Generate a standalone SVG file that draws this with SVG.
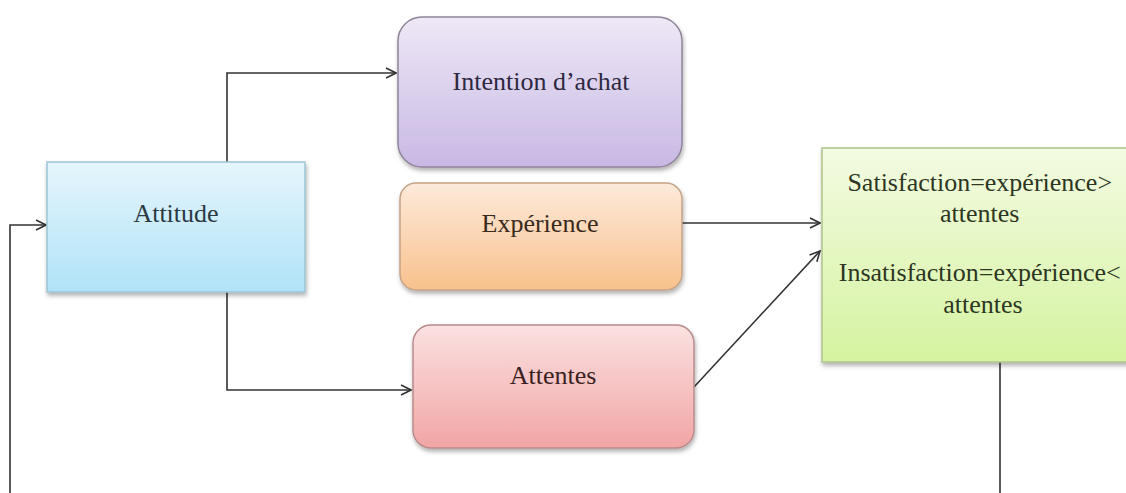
<svg xmlns="http://www.w3.org/2000/svg" width="1126" height="493" viewBox="0 0 1126 493">
  <style>
    .lbl { font-family: "Liberation Serif", "Times New Roman", serif; font-size: 26px; text-anchor: middle; }
    .node rect { stroke-width: 1.5; filter: url(#shadow); }
    .wire { fill: none; stroke: #333; stroke-width: 1.6; }
  </style>
  <defs>
    <filter id="shadow" x="-10%" y="-10%" width="125%" height="130%">
      <feDropShadow dx="1" dy="3" stdDeviation="2" flood-color="#000" flood-opacity="0.3"/>
    </filter>
    <linearGradient id="gBlue" x1="0" y1="0" x2="0" y2="1">
      <stop offset="0" stop-color="#e6f5fc"/>
      <stop offset="1" stop-color="#b0e3f8"/>
    </linearGradient>
    <linearGradient id="gPurple" x1="0" y1="0" x2="0" y2="1">
      <stop offset="0" stop-color="#eee8f6"/>
      <stop offset="1" stop-color="#c8b8e4"/>
    </linearGradient>
    <linearGradient id="gOrange" x1="0" y1="0" x2="0" y2="1">
      <stop offset="0" stop-color="#fdeadb"/>
      <stop offset="1" stop-color="#f8c18c"/>
    </linearGradient>
    <linearGradient id="gRed" x1="0" y1="0" x2="0" y2="1">
      <stop offset="0" stop-color="#fbe1e1"/>
      <stop offset="1" stop-color="#f2a5a5"/>
    </linearGradient>
    <linearGradient id="gGreen" x1="0" y1="0" x2="0" y2="1">
      <stop offset="0" stop-color="#f3fbe2"/>
      <stop offset="1" stop-color="#d5f3a0"/>
    </linearGradient>
    <marker id="arrow" viewBox="0 0 12 12" refX="11" refY="6" markerWidth="12" markerHeight="12" markerUnits="userSpaceOnUse" orient="auto">
      <path d="M1,1 L11,6 L1,11" fill="none" stroke="#333" stroke-width="1.6"/>
    </marker>
  </defs>

  <rect width="1126" height="493" fill="#ffffff"/>

  <!-- connectors -->
  <g id="connectors">
    <path class="wire" d="M227,162 V73 H396" marker-end="url(#arrow)"/>
    <path class="wire" d="M227,292 V390 H411" marker-end="url(#arrow)"/>
    <path class="wire" d="M10,493 V225 H46" marker-end="url(#arrow)"/>
    <path class="wire" d="M682,223 H820" marker-end="url(#arrow)"/>
    <path class="wire" d="M694,387 L820,251" marker-end="url(#arrow)"/>
    <path class="wire" d="M1000,362 V493"/>
  </g>

  <!-- nodes -->
  <g id="attitude" class="node">
    <rect x="47" y="162" width="258" height="130" fill="url(#gBlue)" stroke="#9cc3d6"/>
    <text class="lbl" x="176" y="222" fill="#2b3a44">Attitude</text>
  </g>

  <g id="intention" class="node">
    <rect x="398" y="17" width="284" height="150" rx="24" fill="url(#gPurple)" stroke="#8f8499"/>
    <text class="lbl" x="541" y="90" fill="#2e2840">Intention d’achat</text>
  </g>

  <g id="experience" class="node">
    <rect x="400" y="183" width="282" height="107" rx="16" fill="url(#gOrange)" stroke="#c4a287"/>
    <text class="lbl" x="540" y="232" fill="#3a2a1c">Expérience</text>
  </g>

  <g id="attentes" class="node">
    <rect x="413" y="325" width="281" height="123" rx="18" fill="url(#gRed)" stroke="#b98a8a"/>
    <text class="lbl" x="553" y="384" fill="#3a2222">Attentes</text>
  </g>

  <g id="satisfaction" class="node">
    <rect x="822" y="148" width="312" height="214" fill="url(#gGreen)" stroke="#aec48a"/>
    <text class="lbl" fill="#2c3622">
      <tspan x="983" y="191">Satisfaction=expérience&gt;</tspan>
      <tspan x="983" y="222">attentes</tspan>
      <tspan x="983" y="281">Insatisfaction=expérience&lt;</tspan>
      <tspan x="983" y="313">attentes</tspan>
    </text>
  </g>
</svg>
